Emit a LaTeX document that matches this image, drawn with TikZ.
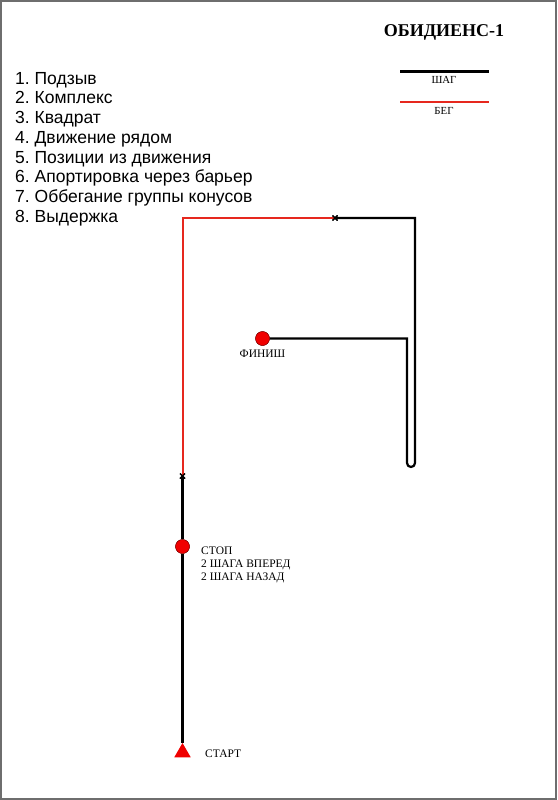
\documentclass[tikz,border=0pt]{standalone}
\usepackage{fontspec}
\setmainfont{Liberation Serif}
\newfontfamily\listfont{Liberation Sans}
\usetikzlibrary{positioning}
\usetikzlibrary{shapes.geometric,shapes.misc}

\definecolor{runred}{RGB}{230,40,30}
\definecolor{dotred}{RGB}{240,0,0}
\definecolor{framegray}{RGB}{110,110,110}

\tikzset{
  walk/.style={line width=2.2pt,black},
  run/.style={line width=2pt,runred},
  crossmark/.style={cross out,draw,line width=1.3pt,minimum size=5pt,inner sep=0pt,outer sep=0pt},
  dot/.style={circle,fill=dotred,draw=black!60!red,line width=0.3pt,minimum size=14pt,inner sep=0pt},
  lbl/.style={font=\fontsize{11.5}{13}\selectfont,inner sep=0pt},
}

\begin{document}
\begin{tikzpicture}[x=1pt,y=-1pt]
\useasboundingbox (0,0) rectangle (557,800);
\draw[framegray,line width=1.5pt] (1,1) rectangle (556,799);

% title and legend
\node (title) at (444,32) {\fontsize{18}{22}\selectfont\bfseries ОБИДИЕНС-1};
\coordinate (wl) at (400,71.5);
\coordinate (wr) at (489,71.5);
\coordinate (rl) at (400,102);
\coordinate (rr) at (489,102);
\draw[walk] (wl) -- (wr);
\draw[run] (rl) -- (rr);
\node[lbl,font=\fontsize{10.8}{12}\selectfont] (wlbl) at (444,80) {ШАГ};
\node[lbl,font=\fontsize{10.8}{12}\selectfont] (rlbl) at (444,111) {БЕГ};

% exercises
\foreach \t [count=\i] in {
  Подзыв,
  Комплекс,
  Квадрат,
  Движение рядом,
  Позиции из движения,
  Апортировка через барьер,
  Оббегание группы конусов,
  Выдержка
}
\node[anchor=base west,inner sep=0pt,font=\listfont\fontsize{17.5}{20}\selectfont] (ex\i) at (15,{84.2+19.7*(\i-1)}) {\i.~\t};

% route
\node[regular polygon,regular polygon sides=3,fill=dotred,inner sep=0pt,minimum size=19pt] (start) at (182.5,752.5) {};
\node[lbl,anchor=west] (startlbl) at (205,754) {СТАРТ};
\node[dot] (stop) at (182.5,546.5) {};
\node[lbl,anchor=west,align=left] (stoplbl) at (201,565) {СТОП\\2 ШАГА ВПЕРЕД\\2 ШАГА НАЗАД};
\node[crossmark] (x1) at (182.5,476) {};
\node[crossmark] (x2) at (335,218) {};
\coordinate (corner) at (182.5,218);
\node[dot] (finish) at (262.5,338.5) {};
\node[lbl,below=4pt of finish] (finishlbl) {ФИНИШ};

\draw[walk] (start.north) -- (stop) -- (x1.center);
\draw[run] (x1.center) -- (corner) -- (x2.center);
\draw[walk] (x2.center) -- (415,218) -- (415,463) arc (0:180:4) -- (407,338.5) -- (finish);
\node[crossmark] at (x1) {};
\node[crossmark] at (x2) {};
\node[dot] at (stop) {};
\node[dot] at (finish) {};
\end{tikzpicture}
\end{document}
